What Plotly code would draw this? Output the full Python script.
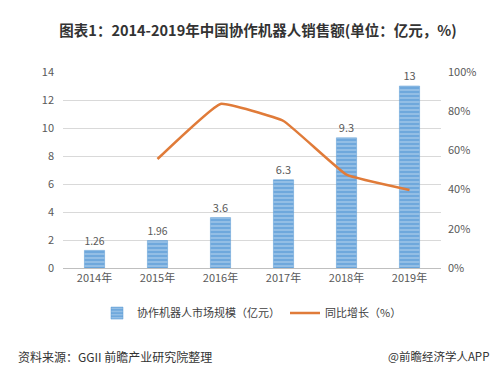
import plotly.graph_objects as go

years = ["2014年", "2015年", "2016年", "2017年", "2018年", "2019年"]
market_size = [1.26, 1.96, 3.6, 6.3, 9.3, 13]
market_labels = ["1.26", "1.96", "3.6", "6.3", "9.3", "13"]
growth_years = ["2015年", "2016年", "2017年", "2018年", "2019年"]
growth_pct = [55.6, 83.7, 75.0, 47.6, 39.8]

fig = go.Figure()
fig.add_trace(go.Bar(
    x=years, y=market_size, name="协作机器人市场规模（亿元）",
    text=market_labels, textposition="outside", cliponaxis=False,
    textfont=dict(size=11, color="#595959"),
    width=0.32,
    marker=dict(color="#7fb2e0", line=dict(color="#5b9bd5", width=0.5),
                pattern=dict(shape="-", fgcolor="#e8f1fa", bgcolor="#6fa8dc", size=4, solidity=0.3)),
))
fig.add_trace(go.Scatter(
    x=growth_years, y=growth_pct, name="同比增长（%）", yaxis="y2",
    mode="lines", line=dict(color="#e07b39", width=2.5, shape="spline", smoothing=0.3),
))

fig.update_layout(
    width=500, height=374,
    margin=dict(l=55, r=67, t=64, b=114),
    paper_bgcolor="white", plot_bgcolor="white",
    font=dict(family="Noto Sans CJK SC, Liberation Sans, sans-serif", color="#595959", size=11),
    title=dict(text="<b>图表1：2014-2019年中国协作机器人销售额(单位：亿元，%)</b>",
               x=0.5, xanchor="center", y=0.94, yanchor="middle",
               font=dict(size=14.5, color="#333333")),
    xaxis=dict(showline=True, linecolor="#bfbfbf", ticks="", tickfont=dict(size=11, color="#595959")),
    yaxis=dict(range=[0, 14], dtick=2, showgrid=True, gridcolor="#d9d9d9", zeroline=False,
               ticklabelstandoff=8, tickfont=dict(size=11, color="#595959")),
    yaxis2=dict(range=[0, 100], dtick=20, overlaying="y", side="right", showgrid=False,
                ticksuffix="%", ticklabelstandoff=6, tickfont=dict(size=11, color="#595959"), zeroline=False),
    bargap=0.68,
    legend=dict(orientation="h", x=0.5, xanchor="center", y=-0.23, yanchor="middle",
                font=dict(size=11, color="#404040")),
    annotations=[
        dict(text="资料来源：GGII 前瞻产业研究院整理", xref="paper", yref="paper",
             x=-0.125, y=-0.45, xanchor="left", yanchor="middle", showarrow=False,
             font=dict(size=12, color="#333333")),
        dict(text="@前瞻经济学人APP", xref="paper", yref="paper",
             x=1.0, xshift=50, y=-0.45, xanchor="right", yanchor="middle", showarrow=False,
             font=dict(size=11.5, color="#333333")),
    ],
)

fig.write_html("out.html")
